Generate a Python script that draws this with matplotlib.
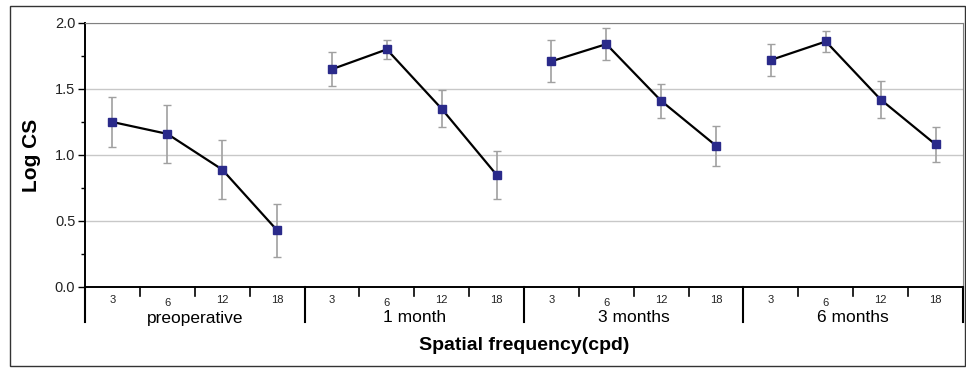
import matplotlib.pyplot as plt
from matplotlib.patches import Rectangle
import numpy as np

plt.rcParams['font.family'] = ['Liberation Sans', 'DejaVu Sans']

groups = ['preoperative', '1 month', '3 months', '6 months']
freqs = ['3', '6', '12', '18']
log_cs = [
    [1.25, 1.16, 0.89, 0.43],
    [1.65, 1.80, 1.35, 0.85],
    [1.71, 1.84, 1.41, 1.07],
    [1.72, 1.86, 1.42, 1.08],
]
err = [
    [0.19, 0.22, 0.22, 0.20],
    [0.13, 0.07, 0.14, 0.18],
    [0.16, 0.12, 0.13, 0.15],
    [0.12, 0.08, 0.14, 0.13],
]

W, H = 966, 368
fig = plt.figure(figsize=(W / 100, H / 100), dpi=100)
# plot box in pixels
x0, x1, y0, y1 = 85, 963, 23, 287
ax = fig.add_axes([x0 / W, 1 - y1 / H, (x1 - x0) / W, (y1 - y0) / H])
axh = y1 - y0

# outer frame
fig.patches.append(Rectangle((10 / W, 1 - 366 / H), 955 / W, 360 / H,
                             transform=fig.transFigure, fill=False,
                             edgecolor='#333333', linewidth=1.0))

n = len(freqs)
for g in range(len(groups)):
    xs = np.arange(n) + g * n + 0.5
    ax.errorbar(xs, log_cs[g], yerr=err[g], fmt='none', ecolor='#a0a0a0',
                elinewidth=1.2, capsize=3, capthick=1.0, zorder=2)
    ax.plot(xs, log_cs[g], color='black', linewidth=1.6, zorder=3)
    ax.plot(xs, log_cs[g], linestyle='none', marker='s', markersize=5.5,
            markerfacecolor='#2a2a8a', markeredgecolor='#2a2a8a', zorder=4)

ax.set_xlim(0, n * len(groups))
ax.set_ylim(0, 2.0)
ax.set_yticks([0, 0.5, 1.0, 1.5, 2.0])
ax.set_yticklabels(['0.0', '0.5', '1.0', '1.5', '2.0'])
ax.set_yticks(np.arange(0.25, 2.0, 0.5), minor=True)
ax.tick_params(axis='y', which='major', length=5, width=1.0, labelsize=10.5,
               pad=2, labelcolor='#222222')
ax.tick_params(axis='y', which='minor', length=3, width=1.0)
ax.set_xticks([])
ax.grid(axis='y', color='#c8c8c8', linewidth=1.0)
ax.set_axisbelow(True)

ax.spines['left'].set_linewidth(1.4)
ax.spines['bottom'].set_linewidth(1.4)
ax.spines['top'].set_color('#808080')
ax.spines['right'].set_color('#808080')

tr = ax.get_xaxis_transform()
for k in range(n * len(groups) + 1):
    if k % n == 0:
        ax.plot([k, k], [0, -35 / axh], color='black', linewidth=1.5,
                transform=tr, clip_on=False)
    else:
        ax.plot([k, k], [0, -9 / axh], color='black', linewidth=1.2,
                transform=tr, clip_on=False)

for g, name in enumerate(groups):
    for i, f in enumerate(freqs):
        dy = 16 if f == '6' else 13
        ax.text(g * n + i + 0.5, -dy / axh, f, transform=tr, ha='center',
                va='center', fontsize=8, color='#222222')
    ax.text(g * n + n / 2, -31 / axh, name, transform=tr, ha='center',
            va='center', fontsize=12.5)

ax.text(0.5, -58 / axh, 'Spatial frequency(cpd)', transform=ax.transAxes,
        ha='center', va='center', fontsize=14, fontweight='bold')
ax.set_ylabel('Log CS', fontsize=15, fontweight='bold', labelpad=10)

fig.savefig('out.png', dpi=100)
